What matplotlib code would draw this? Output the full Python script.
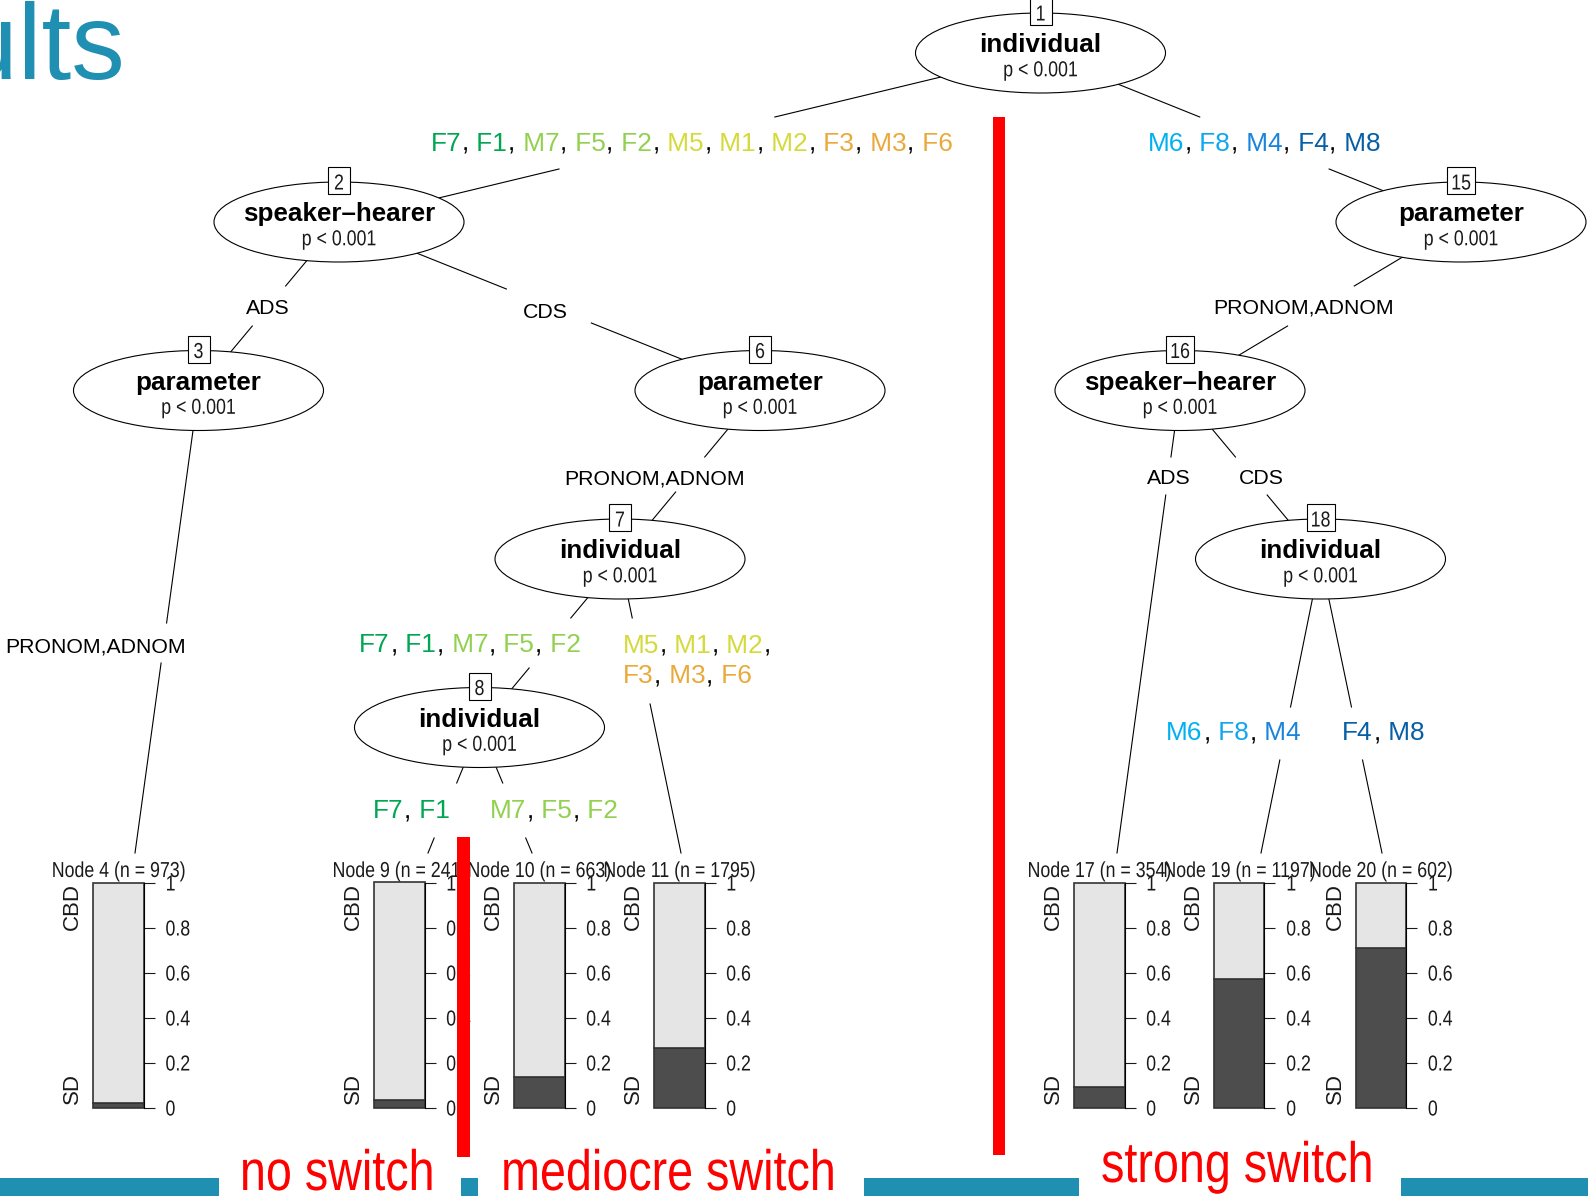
import re
import matplotlib
matplotlib.use("Agg")
import matplotlib.pyplot as plt
from matplotlib.patches import Ellipse, Rectangle
from matplotlib.patheffects import AbstractPathEffect
from matplotlib.transforms import Affine2D
from matplotlib.offsetbox import TextArea, HPacker, VPacker, AnnotationBbox

W, H = 1588, 1196

# inner nodes of the conditional inference tree
inner_ids = [1, 2, 3, 6, 7, 8, 15, 16, 18]
inner_vars = ["individual", "speaker\u2013hearer", "parameter", "parameter", "individual",
              "individual", "parameter", "speaker\u2013hearer", "individual"]
inner_p = ["p < 0.001"] * 9

# terminal nodes: n and share of SD
term_ids = [4, 9, 10, 11, 17, 19, 20]
term_n = [973, 241, 663, 1795, 354, 1197, 602]
term_sd = [0.02, 0.034, 0.135, 0.263, 0.09, 0.57, 0.71]
levels = ["SD", "CBD"]
y_ticks = [0, 0.2, 0.4, 0.6, 0.8, 1]
y_ticklabels = ["0", "0.2", "0.4", "0.6", "0.8", "1"]

# edges and their split labels
edge_from = [1, 1, 2, 2, 3, 6, 7, 7, 8, 8, 15, 16, 16, 18, 18]
edge_to = [2, 15, 3, 6, 4, 7, 8, 11, 9, 10, 16, 17, 18, 19, 20]
edge_labels = ["F7, F1, M7, F5, F2, M5, M1, M2, F3, M3, F6", "M6, F8, M4, F4, M8",
               "ADS", "CDS", "PRONOM,ADNOM", "PRONOM,ADNOM", "F7, F1, M7, F5, F2",
               "M5, M1, M2,\nF3, M3, F6", "F7, F1", "M7, F5, F2", "PRONOM,ADNOM",
               "ADS", "CDS", "M6, F8, M4", "F4, M8"]

groups = ["no switch", "mediocre switch", "strong switch"]

speaker_colors = {
    "F7": "#00a651", "F1": "#00a651",
    "M7": "#92d050", "F5": "#92d050", "F2": "#92d050",
    "M5": "#d4da3a", "M1": "#d4da3a", "M2": "#d4da3a",
    "F3": "#eaa93a", "M3": "#eaa93a", "F6": "#eaa93a",
    "M6": "#00b0f0", "F8": "#12a6ee", "M4": "#1a84dc",
    "F4": "#075fa6", "M8": "#075fa6",
}

# ---- layout (pixel coordinates) ----
node_xy = {1: (1040.5, 53), 2: (339, 222), 3: (198.5, 390.5), 6: (760, 390.5),
           7: (620, 559), 8: (479.5, 727.5), 15: (1461, 222), 16: (1180, 390.5),
           18: (1320.5, 559)}
term_anchor = {4: 135, 9: 428, 10: 532, 11: 681, 17: 1117, 19: 1261, 20: 1382}
term_left = {4: 93.3, 9: 374, 10: 514, 11: 654, 17: 1074, 19: 1214, 20: 1355.7}
ANCHOR_Y = 853
BAR_TOP, BAR_BOT, BAR_W = 882.5, 1107.5, 50.5

label_pos = [(691.5, 144), (1264, 144), (268, 309), (545, 312), (96, 647), (655, 479),
             (470, 645), (622.7, 661), (411, 811), (554, 811), (1303.5, 308),
             (1169, 479), (1261, 479), (1233.6, 733), (1383.5, 733)]
gap_mid = [143, 143, 306, 306, 643, 474.5, 643, 661, 810.5, 810.5, 306, 476, 476, 733.5, 733.5]
gap_half = [26, 26, 20, 17, 20, 17.5, 25, 43, 27.5, 27.5, 20, 19, 19, 26.5, 26.5]


class Narrow(AbstractPathEffect):
    """Draw text glyphs squeezed horizontally, like a narrow cut of the font."""

    def __init__(self, squeeze=0.82, anchor=0.5):
        super().__init__()
        self.squeeze = squeeze
        self.anchor = anchor

    def draw_path(self, renderer, gc, tpath, affine, rgbFace=None):
        ext = tpath.get_extents()
        x0 = ext.x0 + ext.width * self.anchor
        sq = Affine2D().translate(-x0, 0).scale(self.squeeze, 1).translate(x0, 0)
        renderer.draw_path(gc, tpath, sq + affine, rgbFace)


plt.rcParams["font.family"] = ["Liberation Sans", "DejaVu Sans"]

INK = "#1a1a1a"
LIGHT, DARK, EDGE = "#e5e5e5", "#4d4d4d", "#333333"
TEAL = "#1f8fb2"
NARROW_C = [Narrow(anchor=0.5)]
NARROW_L = [Narrow(anchor=0.0)]

fig = plt.figure(figsize=(W / 100, H / 100), dpi=100)
ax = fig.add_axes([0, 0, 1, 1])
ax.set_xlim(0, W)
ax.set_ylim(H, 0)
ax.set_axis_off()


def point_of(nid):
    if nid in node_xy:
        return node_xy[nid]
    return term_anchor[nid], ANCHOR_Y


# edges, broken where the label sits
for src, dst, mid, half in zip(edge_from, edge_to, gap_mid, gap_half):
    (x0, y0), (x1, y1) = point_of(src), point_of(dst)
    xa = x0 + (x1 - x0) * (mid - half - y0) / (y1 - y0)
    xb = x0 + (x1 - x0) * (mid + half - y0) / (y1 - y0)
    ax.plot([x0, xa], [y0, mid - half], color="black", lw=0.8, zorder=1)
    ax.plot([xb, x1], [mid + half, y1], color="black", lw=0.8, zorder=1)


def label_box(text):
    rows = []
    for line in text.split("\n"):
        parts = re.findall(r"\s*[^,\s]+|,", line)
        coloured = any(p.strip() in speaker_colors for p in parts)
        size = 18.9 if coloured else 15.3
        if not coloured:
            parts = [line]
        areas = [TextArea(p, textprops=dict(color=speaker_colors.get(p.strip(), "black"),
                                            fontsize=size))
                 for p in parts]
        rows.append(HPacker(children=areas, pad=0, sep=0.4, align="baseline"))
    if len(rows) == 1:
        return rows[0]
    return VPacker(children=rows, pad=0, sep=5, align="left")


for i, text in enumerate(edge_labels):
    box = label_box(text)
    align = (0, 0.5) if "\n" in text else (0.5, 0.5)
    ab = AnnotationBbox(box, label_pos[i], xycoords="data", frameon=False,
                        box_alignment=align, pad=0, zorder=2)
    ax.add_artist(ab)

# inner nodes
for nid, var, p in zip(inner_ids, inner_vars, inner_p):
    cx, cy = node_xy[nid]
    ax.add_patch(Ellipse((cx, cy), 250, 80, fc="white", ec="black", lw=0.8, zorder=3))
    ax.text(cx, cy - 0.5, var, ha="center", va="baseline", fontsize=18.7,
            fontweight="bold", color="black", zorder=4)
    ax.text(cx, cy + 23.3, p, ha="center", va="baseline", fontsize=15.6,
            color=INK, zorder=4, path_effects=NARROW_C)
    bw = 22 if nid < 10 else 28
    ax.add_patch(Rectangle((cx - bw / 2, cy - 41.5 - 13.5), bw, 27, fc="white",
                           ec="black", lw=0.8, zorder=4))
    ax.text(cx, cy - 32.5, str(nid), ha="center", va="baseline", fontsize=15.6,
            color=INK, zorder=5, path_effects=NARROW_C)

# terminal nodes: stacked bar of class shares
for tid, n, sd in zip(term_ids, term_n, term_sd):
    left = term_left[tid]
    ax.text(left + BAR_W / 2, 877, f"Node {tid} (n = {n})", ha="center", va="baseline",
            fontsize=15.6, color=INK, zorder=2, path_effects=NARROW_C)
    ax.text(left - 20.5, BAR_TOP + 0.5, levels[1], rotation=90, ha="center", va="top",
            fontsize=16, color=INK)
    ax.text(left - 20.5, BAR_BOT - 4, levels[0], rotation=90, ha="center", va="bottom",
            fontsize=16, color=INK)

    pax = fig.add_axes([left / W, 1 - BAR_BOT / H, BAR_W / W, (BAR_BOT - BAR_TOP) / H])
    pax.bar([0], [sd], width=1, color=DARK, edgecolor=EDGE, lw=1.2, clip_on=False)
    pax.bar([0], [1 - sd], bottom=[sd], width=1, color=LIGHT, edgecolor=EDGE, lw=1.2,
            clip_on=False)
    pax.set_xlim(-0.5, 0.5)
    pax.set_ylim(0, 1)
    pax.patch.set_alpha(0)
    for s in ["left", "top", "bottom"]:
        pax.spines[s].set_visible(False)
    pax.spines["right"].set_linewidth(0.8)
    pax.set_xticks([])
    pax.yaxis.tick_right()
    pax.set_yticks(y_ticks, y_ticklabels)
    pax.tick_params(axis="y", length=8, width=0.8, pad=7.5, labelsize=15.6,
                    labelcolor=INK, color=INK)
    for lab in pax.get_yticklabels():
        lab.set_path_effects(NARROW_L)

# slide overlay: title remnant, group separators, footer bands
top = fig.add_axes([0, 0, 1, 1])
top.set_xlim(0, W)
top.set_ylim(H, 0)
top.set_axis_off()
top.patch.set_alpha(0)

top.text(125, 79, "Results", ha="right", va="baseline", fontsize=77, color=TEAL)

top.add_patch(Rectangle((993, 117), 12, 1038, fc="#ff0000", ec="none"))
top.add_patch(Rectangle((457.3, 837), 12.5, 320, fc="#ff0000", ec="none"))

for x0, x1 in [(0, 219), (461, 478), (864, 1079), (1401, 1588)]:
    top.add_patch(Rectangle((x0, 1178), x1 - x0, 18, fc=TEAL, ec="none"))

for g, (gx, gy) in zip(groups, [(337.3, 1190), (668.5, 1190), (1237.6, 1182)]):
    top.text(gx, gy, g, ha="center", va="baseline", fontsize=41, color="#ff0000",
             path_effects=NARROW_C)

fig.savefig("out.png", dpi=100)
